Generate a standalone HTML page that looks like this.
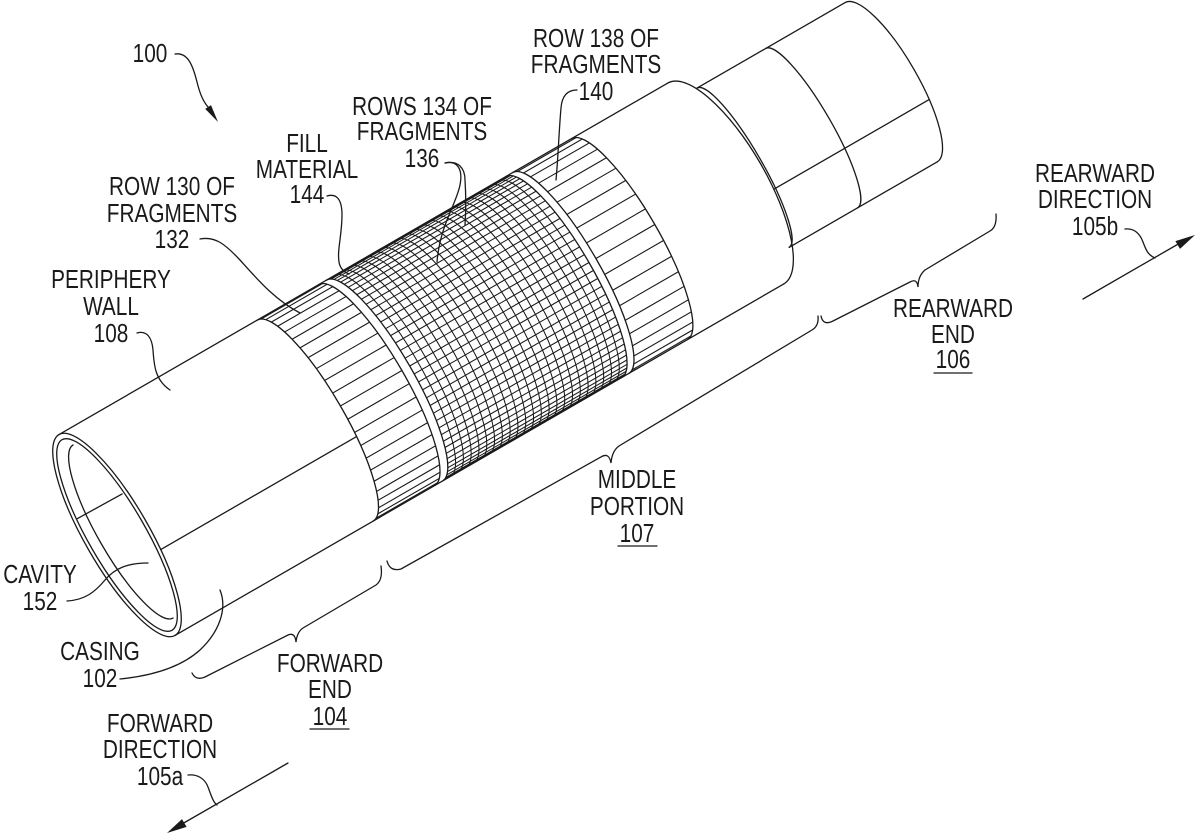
<!DOCTYPE html>
<html>
<head>
<meta charset="utf-8">
<style>
  html,body{margin:0;padding:0;background:#fff;}
  svg{display:block;}
  text{font-family:"Liberation Sans",Arial,sans-serif;font-size:26px;fill:#1a1a1a;}
</style>
</head>
<body>
<svg width="1200" height="839" viewBox="0 0 1200 839" xmlns="http://www.w3.org/2000/svg">
<rect width="1200" height="839" fill="#fff"/>
<defs>
  <clipPath id="c130"><path d="M229,-116 A29,116 0 0 1 229,116 L300,116 A29,116 0 0 0 300,-116 Z"/></clipPath>
  <clipPath id="cgrid"><path d="M309,-116 A29,116 0 0 1 309,116 L516,116 A29,116 0 0 0 516,-116 Z"/></clipPath>
  <clipPath id="c138"><path d="M524,-116 A29,116 0 0 1 524,116 L592,116 A29,116 0 0 0 592,-116 Z"/></clipPath>
</defs>

<!-- Cylinder in local frame: x along axis, y across -->
<g transform="translate(117,535) rotate(-30)" fill="none" stroke="#1a1a1a" stroke-width="1.3" stroke-linecap="round">
  <!-- front opening -->
  <ellipse cx="0" cy="0" rx="32" ry="116"/>
  <ellipse cx="0" cy="0" rx="28.5" ry="110"/>
  <path d="M7,-100 A25,100 0 0 0 7,100"/>
  <path d="M-26,-34 L25,-33"/>
  <!-- body silhouettes -->
  <path d="M0,-116 H703"/>
  <path d="M0,116 H703"/>
  <path d="M30.6,34.5 H256.7"/>
  <!-- body end and rear sections -->
  <path d="M703,-116 A40,116 0 0 1 703,116"/>
  <path d="M726,-97 A19,92 0 0 1 726,87"/>
  <path d="M726,-97 H897"/>
  <path d="M726,87 H897"/>
  <path d="M805,-97 A20,92 0 0 1 805,87"/>
  <path d="M897,-97 A26,92 0 0 1 897,87"/>
  <path d="M742,29 H921"/>
  <!-- band edges -->
  <path d="M229,-116 A29,116 0 0 1 229,116 M300,-116 A29,116 0 0 1 300,116 M309,-116 A29,116 0 0 1 309,116 M516,-116 A29,116 0 0 1 516,116 M524,-116 A29,116 0 0 1 524,116 M592,-116 A29,116 0 0 1 592,116"/>

  <!-- row 130 fragments -->
  <g clip-path="url(#c130)" stroke-width="1.1">
    <path d="M229,-115H330M229,-112.1H330M229,-107.2H330M229,-100.5H330M229,-92H330M229,-82H330M229,-70.6H330M229,-58H330M229,-44.4H330M229,-30H330M229,-15.1H330M229,0H330M229,15.1H330M229,30H330M229,44.4H330M229,58H330M229,70.6H330M229,82H330M229,92H330M229,100.5H330M229,107.2H330M229,112.1H330M229,115H330"/>
  </g>

  <!-- rows 134 grid -->
  <g clip-path="url(#cgrid)" stroke-width="1.05">
    <path d="M309,-115.6H546M309,-114.6H546M309,-112.8H546M309,-110.3H546M309,-107.2H546M309,-103.4H546M309,-98.9H546M309,-93.9H546M309,-88.2H546M309,-82H546M309,-75.3H546M309,-68.2H546M309,-60.6H546M309,-52.7H546M309,-44.4H546M309,-35.9H546M309,-27.1H546M309,-18.2H546M309,-9.1H546M309,0H546M309,9.1H546M309,18.2H546M309,27.1H546M309,35.9H546M309,44.4H546M309,52.7H546M309,60.6H546M309,68.2H546M309,75.3H546M309,82H546M309,88.2H546M309,93.9H546M309,98.9H546M309,103.4H546M309,107.2H546M309,110.3H546M309,112.8H546M309,114.6H546M309,115.6H546"/>
    <path d="M318,-116A29,116 0 0 1 318,116M327,-116A29,116 0 0 1 327,116M336,-116A29,116 0 0 1 336,116M345,-116A29,116 0 0 1 345,116M354,-116A29,116 0 0 1 354,116M363,-116A29,116 0 0 1 363,116M372,-116A29,116 0 0 1 372,116M381,-116A29,116 0 0 1 381,116M390,-116A29,116 0 0 1 390,116M399,-116A29,116 0 0 1 399,116M408,-116A29,116 0 0 1 408,116M417,-116A29,116 0 0 1 417,116M426,-116A29,116 0 0 1 426,116M435,-116A29,116 0 0 1 435,116M444,-116A29,116 0 0 1 444,116M453,-116A29,116 0 0 1 453,116M462,-116A29,116 0 0 1 462,116M471,-116A29,116 0 0 1 471,116M480,-116A29,116 0 0 1 480,116M489,-116A29,116 0 0 1 489,116M498,-116A29,116 0 0 1 498,116M507,-116A29,116 0 0 1 507,116"/>
  </g>

  <!-- row 138 fragments -->
  <g clip-path="url(#c138)" stroke-width="1.1">
    <path d="M524,-114.6H622M524,-110.3H622M524,-103.4H622M524,-93.9H622M524,-82H622M524,-68.2H622M524,-52.7H622M524,-35.9H622M524,-18.2H622M524,0H622M524,18.2H622M524,35.9H622M524,52.7H622M524,68.2H622M524,82H622M524,93.9H622M524,103.4H622M524,110.3H622M524,114.6H622"/>
  </g>
</g>

<!-- leaders, braces, arrows -->
<g fill="none" stroke="#1a1a1a" stroke-width="1.3" stroke-linecap="round">
  <path d="M175,54 C188,52 193,66 197,82 C200,94 203,101 208,107"/>
  <path d="M327,196 C337,193 342,200 342,215 C342,235 337,250 339,262 C340,268 344,272 349,274"/>
  <path d="M200,239 C215,236 225,244 240,260 C258,280 275,300 300,313"/>
  <path d="M137,333 C147,330 152,338 153,350 C154,365 155,380 170,390"/>
  <path d="M67,601 C85,600 95,592 105,580 C115,568 128,563 148,563"/>
  <path d="M120,679 C150,676 180,668 200,650 C218,633 228,610 220,590"/>
  <path d="M445,163 C458,160 463,170 460,185 C456,205 440,225 437,262"/>
  <path d="M445,163 C458,160 465,168 465,180 C466,195 466,210 465,225"/>
  <path d="M577,90 C568,90 562,95 561,108 C559,130 558,160 556,180"/>
  <path d="M1125,229 C1135,228 1140,234 1143,242 C1146,250 1148,255 1155,258"/>
  <path d="M188,775 C198,774 205,779 208,787 C211,795 213,802 217,805"/>
  <!-- direction arrows -->
  <path d="M1083,299 L1180,243"/>
  <path d="M288,763 L182,824"/>
  <!-- braces -->
  <path d="M192,673 Q196,681 205,677 L288,635 Q295,632 296,642 Q297,632 303,628 L376,585 Q383,580 381,566"/>
  <path d="M387,561 Q390,572 401,569 L601,457 Q609,452 611,463 Q612,451 619,446 L812,330 Q819,326 818,316"/>
  <path d="M821,316 Q823,326 833,321 L910,282 Q917,278 918,287 Q918,276 925,270 L990,231 Q997,227 996,214"/>
  <!-- underlines -->
  <path d="M310,729 H349"/>
  <path d="M618,546 H657"/>
  <path d="M934,373 H972"/>
</g>
<g fill="#1a1a1a" stroke="none">
  <polygon points="218,122 205.2,108.9 211,105.1"/>
  <polygon points="1195,235 1180,248.9 1175.4,241.1"/>
  <polygon points="167,833 182,819.1 186.6,826.9"/>
</g>

<!-- labels -->
<g text-anchor="middle">
  <g transform="translate(150,0) scale(0.8,1)"><text x="0" y="62">100</text></g>
  <g transform="translate(307,0) scale(0.8,1)"><text x="0" y="152">FILL</text><text x="0" y="178">MATERIAL</text><text x="0" y="203">144</text></g>
  <g transform="translate(172,0) scale(0.8,1)"><text x="0" y="195">ROW 130 OF</text><text x="0" y="222">FRAGMENTS</text><text x="0" y="248">132</text></g>
  <g transform="translate(111,0) scale(0.8,1)"><text x="0" y="288">PERIPHERY</text><text x="0" y="315">WALL</text><text x="0" y="342">108</text></g>
  <g transform="translate(422,0) scale(0.8,1)"><text x="0" y="115">ROWS 134 OF</text><text x="0" y="140">FRAGMENTS</text><text x="0" y="167">136</text></g>
  <g transform="translate(596,0) scale(0.8,1)"><text x="0" y="47">ROW 138 OF</text><text x="0" y="73">FRAGMENTS</text><text x="0" y="100">140</text></g>
  <g transform="translate(1095,0) scale(0.8,1)"><text x="0" y="182">REARWARD</text><text x="0" y="208">DIRECTION</text><text x="0" y="235">105b</text></g>
  <g transform="translate(953,0) scale(0.8,1)"><text x="0" y="317">REARWARD</text><text x="0" y="343">END</text><text x="0" y="368">106</text></g>
  <g transform="translate(637,0) scale(0.8,1)"><text x="0" y="488">MIDDLE</text><text x="0" y="515">PORTION</text><text x="0" y="542">107</text></g>
  <g transform="translate(330,0) scale(0.8,1)"><text x="0" y="672">FORWARD</text><text x="0" y="698">END</text><text x="0" y="725">104</text></g>
  <g transform="translate(160,0) scale(0.8,1)"><text x="0" y="732">FORWARD</text><text x="0" y="758">DIRECTION</text><text x="0" y="785">105a</text></g>
  <g transform="translate(40,0) scale(0.8,1)"><text x="0" y="583">CAVITY</text><text x="0" y="610">152</text></g>
  <g transform="translate(100,0) scale(0.8,1)"><text x="0" y="660">CASING</text><text x="0" y="687">102</text></g>
</g>
</svg>
</body>
</html>
